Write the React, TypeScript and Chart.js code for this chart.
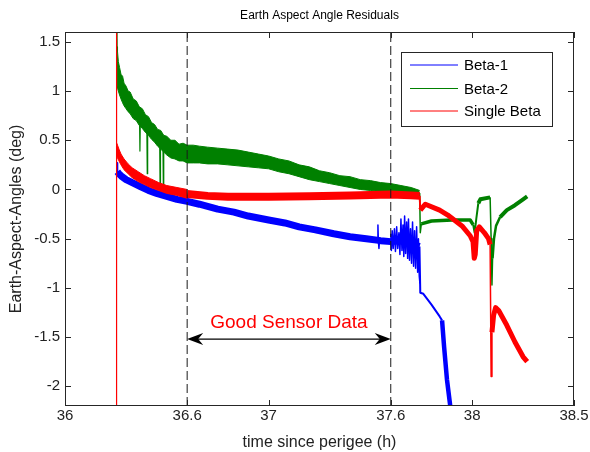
import { useEffect, useRef } from "react";
import { Chart, registerables } from "chart.js";

Chart.register(...registerables);

// ---------- data ----------
const chartTitle = "Earth Aspect Angle Residuals";
const xAxisTitle = "time since perigee (h)";
const yAxisTitle = "Earth-Aspect-Angles (deg)";
const seriesNames = ["Beta-1", "Beta-2", "Single Beta"];
const xRange = [36, 38.5];
const yRange = [-2.2, 1.6];
const xTickValues = [36, 36.6, 37, 37.6, 38, 38.5];
const yTickValues = [-2, -1.5, -1, -0.5, 0, 0.5, 1, 1.5];
const goodDataStart = 36.6;
const goodDataEnd = 37.6;
const arrowLevel = -1.52;
const annotationText = "Good Sensor Data";
const annotationLevel = -1.405;

// Beta-1 (blue): trend line
const beta1: [number, number][] = [
  [36.2555, 0.27], [36.257, 0.18], [36.265, 0.16], [36.28, 0.13], [36.3, 0.1],
  [36.33, 0.07], [36.37, 0.03], [36.41, -0.01], [36.45, -0.04], [36.5, -0.07],
  [36.55, -0.1], [36.6, -0.12], [36.66, -0.15], [36.75, -0.2], [36.83, -0.23],
  [36.9, -0.27], [37.0, -0.31], [37.08, -0.34], [37.15, -0.38], [37.23, -0.41],
  [37.32, -0.45], [37.4, -0.48], [37.48, -0.5], [37.55, -0.52], [37.6, -0.53],
  [37.65, -0.52], [37.7, -0.55], [37.741, -0.58], [37.745, -1.05], [37.76, -1.06],
  [37.8, -1.17], [37.84, -1.29], [37.852, -1.33], [37.862, -1.6], [37.876, -1.93],
  [37.891, -2.18], [37.9, -2.4],
];
// Beta-1 noise bursts near the end of the good-data window
const beta1Noise: [number, number | null][] = [
  [37.535, -0.5], [37.537, -0.36], [37.539, -0.52], [37.542, -0.6], [37.545, -0.5], [37.546, null],
  [37.6, -0.45], [37.603, -0.62], [37.607, -0.42], [37.612, -0.6], [37.618, -0.4],
  [37.623, -0.63], [37.629, -0.38], [37.634, -0.6], [37.64, -0.44], [37.645, -0.66],
  [37.65, -0.3], [37.655, -0.62], [37.66, -0.36], [37.664, -0.68], [37.668, -0.27],
  [37.673, -0.65], [37.678, -0.33], [37.683, -0.7], [37.687, -0.3], [37.692, -0.72],
  [37.697, -0.4], [37.702, -0.75], [37.707, -0.33], [37.712, -0.78], [37.717, -0.42],
  [37.722, -0.8], [37.727, -0.38], [37.732, -0.84], [37.736, -0.5], [37.74, -0.88],
  [37.743, -0.95],
];

// Beta-2 (green): noisy band envelope, then line after the band
const beta2BandX = [
  36.2555, 36.258, 36.262, 36.268, 36.275, 36.283, 36.29, 36.3, 36.31, 36.32, 36.335,
  36.35, 36.365, 36.38, 36.395, 36.41, 36.425, 36.44, 36.455, 36.47, 36.485, 36.5,
  36.52, 36.54, 36.56, 36.58, 36.6, 36.63, 36.66, 36.7, 36.75, 36.8, 36.85, 36.9,
  36.95, 37.0, 37.05, 37.1, 37.15, 37.2, 37.25, 37.3, 37.35, 37.4, 37.45, 37.5,
  37.55, 37.6, 37.65, 37.7, 37.742,
];
const beta2BandUpper = [
  1.45, 1.4, 1.3, 1.24, 1.17, 1.15, 1.08, 1.05, 1.0, 0.99, 0.92,
  0.9, 0.84, 0.82, 0.76, 0.74, 0.68, 0.66, 0.61, 0.6, 0.55, 0.54,
  0.5, 0.5, 0.46, 0.47, 0.45, 0.45, 0.44, 0.43, 0.42, 0.41, 0.4, 0.38,
  0.36, 0.34, 0.31, 0.29, 0.25, 0.23, 0.19, 0.17, 0.14, 0.13, 0.1, 0.09,
  0.07, 0.06, 0.04, 0.02, -0.01,
];
const beta2BandLower = [
  1.05, 1.03, 1.0, 0.96, 0.92, 0.88, 0.85, 0.82, 0.79, 0.77, 0.72,
  0.7, 0.65, 0.62, 0.58, 0.55, 0.51, 0.48, 0.44, 0.41, 0.38, 0.35,
  0.32, 0.31, 0.29, 0.29, 0.27, 0.27, 0.27, 0.26, 0.26, 0.25, 0.24, 0.23,
  0.22, 0.21, 0.18, 0.16, 0.13, 0.1, 0.08, 0.06, 0.04, 0.02, 0.0, -0.01,
  -0.02, -0.03, -0.04, -0.05, -0.06,
];
const beta2: [number, number | null][] = [
  [36.254, 1.75], [36.2555, 1.4], [36.256, null],
  [37.742, -0.035], [37.745, -0.44], [37.75, -0.35], [37.8, -0.32], [37.9, -0.31],
  [37.99, -0.31], [38.005, -0.36], [38.012, -0.44], [38.02, -0.3], [38.03, -0.14],
  [38.04, -0.1], [38.088, -0.08], [38.093, -0.5], [38.097, -0.97], [38.1, -0.7],
  [38.107, -0.5], [38.117, -0.37], [38.137, -0.28], [38.17, -0.21], [38.21, -0.16],
  [38.25, -0.1], [38.27, -0.07],
];
const beta2Spikes: [number, number | null][] = [
  [36.366, 0.72], [36.368, 0.39], [36.37, 0.7], [36.371, null],
  [36.402, 0.6], [36.404, 0.16], [36.406, 0.58], [36.407, null],
  [36.465, 0.48], [36.467, 0.02], [36.469, 0.47], [36.47, null],
  [36.481, 0.46], [36.483, 0.01], [36.485, 0.45],
];

// Single Beta (red): early noisy band, then line
const singleBandX = [36.2545, 36.258, 36.265, 36.275, 36.29, 36.31, 36.33, 36.36, 36.39, 36.42, 36.46, 36.5, 36.55, 36.6];
const singleBandUpper = [0.47, 0.45, 0.41, 0.36, 0.31, 0.26, 0.22, 0.18, 0.14, 0.11, 0.07, 0.04, 0.02, 0.0];
const singleBandLower = [0.34, 0.32, 0.29, 0.25, 0.2, 0.16, 0.12, 0.08, 0.05, 0.02, -0.01, -0.04, -0.06, -0.09];
const singleBeta: [number, number | null][] = [
  [36.252, -2.5], [36.252, 1.8], [36.2535, 0.85], [36.2545, 0.45], [36.255, null],
  [36.6, -0.045], [36.7, -0.065], [36.8, -0.075], [37.0, -0.075], [37.2, -0.07],
  [37.4, -0.06], [37.6, -0.05], [37.7, -0.06], [37.742, -0.065], [37.745, -0.21],
  [37.77, -0.15], [37.84, -0.21], [37.88, -0.26], [37.95, -0.37], [37.99, -0.47],
  [38.004, -0.53], [38.01, -0.7], [38.015, -0.66], [38.022, -0.42], [38.035, -0.38],
  [38.06, -0.44], [38.08, -0.5], [38.088, -0.56], [38.093, -1.9], [38.097, -1.45],
  [38.105, -1.28], [38.115, -1.2], [38.13, -1.23], [38.17, -1.38], [38.21, -1.55],
  [38.25, -1.7], [38.27, -1.75],
];

// ---------- styles ----------
const BLUE = "#0000ff";
const GREEN = "#008000";
const RED = "#ff0000";
const FONT = "'Liberation Sans', Arial, Helvetica, sans-serif";
const AXIS_COLOR = "#262626";

// width stops: [segment starting below this x, width]
const blueWidths: [number, number][] = [[36.2565, 2], [37.741, 7], [37.85, 2], [99, 4.5]];
const greenWidths: [number, number][] = [
  [36.2556, 1.5], [37.746, 1.5], [38.0, 3.5], [38.03, 2], [38.087, 4], [38.1, 1.5], [38.13, 2.5], [99, 4],
];
const redWidths: [number, number][] = [
  [36.2546, 1.2], [37.741, 8], [37.744, 2], [38.087, 5], [38.095, 1.5], [99, 5],
];

const widthBy = (stops: [number, number][]) => (ctx: any) => {
  const x = ctx.p0.parsed.x;
  for (const [lim, w] of stops) if (x < lim) return w;
  return stops[stops.length - 1][1];
};

const toPts = (arr: [number, number | null][]) => arr.map(([x, y]) => ({ x, y }));
const zipPts = (xs: number[], ys: number[]) => xs.map((x, i) => ({ x, y: ys[i] }));

const decorPlugin = {
  id: "decor",
  afterDatasetsDraw(chart: any) {
    const { ctx, chartArea: ca, scales } = chart;
    const xs = scales.x;
    const ys = scales.y;
    ctx.save();
    // frame
    ctx.strokeStyle = AXIS_COLOR;
    ctx.lineWidth = 1;
    ctx.strokeRect(Math.round(ca.left) + 0.5, Math.round(ca.top) + 0.5, Math.round(ca.right - ca.left) - 1, Math.round(ca.bottom - ca.top) - 1);
    // inward ticks
    const tl = 6;
    ctx.beginPath();
    for (const t of xs.ticks) {
      const px = Math.round(xs.getPixelForValue(t.value)) + 0.5;
      ctx.moveTo(px, ca.bottom); ctx.lineTo(px, ca.bottom - tl);
      ctx.moveTo(px, ca.top); ctx.lineTo(px, ca.top + tl);
    }
    for (const t of ys.ticks) {
      const py = Math.round(ys.getPixelForValue(t.value)) + 0.5;
      ctx.moveTo(ca.left, py); ctx.lineTo(ca.left + tl, py);
      ctx.moveTo(ca.right, py); ctx.lineTo(ca.right - tl, py);
    }
    ctx.stroke();

    // arrow
    const x1 = xs.getPixelForValue(goodDataStart);
    const x2 = xs.getPixelForValue(goodDataEnd);
    const ay = ys.getPixelForValue(arrowLevel);
    ctx.strokeStyle = "#000";
    ctx.lineWidth = 1.3;
    ctx.beginPath();
    ctx.moveTo(x1 + 6, ay); ctx.lineTo(x2 - 6, ay);
    ctx.stroke();
    ctx.fillStyle = "#000";
    const head = (tx: number, dir: number) => {
      ctx.beginPath();
      ctx.moveTo(tx, ay);
      ctx.lineTo(tx + dir * 16, ay - 6);
      ctx.lineTo(tx + dir * 11, ay);
      ctx.lineTo(tx + dir * 16, ay + 6);
      ctx.closePath();
      ctx.fill();
    };
    head(x1, 1);
    head(x2, -1);

    // annotation text
    ctx.fillStyle = RED;
    ctx.font = `19px ${FONT}`;
    ctx.textAlign = "center";
    ctx.textBaseline = "alphabetic";
    ctx.fillText(annotationText, xs.getPixelForValue((goodDataStart + goodDataEnd) / 2), ys.getPixelForValue(annotationLevel));

    // legend
    const lx = Math.round(ca.right) - 173;
    const ly = Math.round(ca.top) + 20;
    const lw = 151;
    const lh = 74;
    ctx.fillStyle = "#fff";
    ctx.fillRect(lx, ly, lw, lh);
    ctx.strokeStyle = AXIS_COLOR;
    ctx.lineWidth = 1;
    ctx.strokeRect(lx + 0.5, ly + 0.5, lw, lh);
    const colors = [BLUE, GREEN, RED];
    const rows = [13, 36.5, 59];
    ctx.font = `15px ${FONT}`;
    ctx.textAlign = "left";
    ctx.textBaseline = "middle";
    seriesNames.forEach((name, i) => {
      const ry = ly + rows[i];
      ctx.strokeStyle = colors[i];
      ctx.lineWidth = 1;
      ctx.beginPath();
      ctx.moveTo(lx + 9, ry); ctx.lineTo(lx + 57, ry);
      ctx.stroke();
      ctx.fillStyle = "#000";
      ctx.fillText(name, lx + 63, ry + 1);
    });
    ctx.restore();
  },
};

export default function App() {
  const ref = useRef<HTMLCanvasElement>(null);
  useEffect(() => {
    const canvas = ref.current!;
    Chart.defaults.font.family = FONT;
    const dashed = {
      borderColor: "#1a1a1a",
      borderWidth: 1,
      borderDash: [9, 4],
      pointRadius: 0,
      clip: 0,
    };
    const base = { pointRadius: 0, clip: 0, spanGaps: false, borderJoinStyle: "round" };
    const chart = new Chart(canvas, {
      type: "line",
      data: {
        datasets: [
          { ...dashed, label: "start", data: toPts([[goodDataStart, yRange[0]], [goodDataStart, yRange[1]]]) },
          { ...dashed, label: "end", data: toPts([[goodDataEnd, yRange[0]], [goodDataEnd, yRange[1]]]) },
          {
            ...base, label: seriesNames[2], data: toPts(singleBeta), borderColor: RED, borderWidth: 6,
            segment: { borderWidth: widthBy(redWidths) },
          },
          { ...base, label: "redUpper", data: zipPts(singleBandX, singleBandUpper), borderColor: RED, borderWidth: 1 },
          {
            ...base, label: "redLower", data: zipPts(singleBandX, singleBandLower), borderColor: RED, borderWidth: 1,
            fill: "-1", backgroundColor: RED,
          },
          { ...base, label: "blueNoise", data: toPts(beta1Noise), borderColor: BLUE, borderWidth: 1.5 },
          { ...base, label: "greenSpikes", data: toPts(beta2Spikes), borderColor: GREEN, borderWidth: 1.2 },
          {
            ...base, label: seriesNames[1], data: toPts(beta2), borderColor: GREEN, borderWidth: 4,
            segment: { borderWidth: widthBy(greenWidths) },
          },
          { ...base, label: "greenUpper", data: zipPts(beta2BandX, beta2BandUpper), borderColor: GREEN, borderWidth: 1 },
          {
            ...base, label: "greenLower", data: zipPts(beta2BandX, beta2BandLower), borderColor: GREEN, borderWidth: 1,
            fill: "-1", backgroundColor: GREEN,
          },
          {
            ...base, label: seriesNames[0], data: toPts(beta1), borderColor: BLUE, borderWidth: 6,
            segment: { borderWidth: widthBy(blueWidths) },
          },
        ] as any,
      },
      options: {
        responsive: false,
        animation: false,
        devicePixelRatio: 1,
        layout: { padding: { left: 0, right: 16, top: 0, bottom: 0 } },
        elements: { line: { tension: 0 }, point: { radius: 0 } },
        plugins: {
          legend: { display: false },
          tooltip: { enabled: false },
          title: {
            display: true,
            text: chartTitle,
            fullSize: false,
            color: "#000",
            font: { size: 12, weight: "normal", family: FONT },
            padding: { top: 8, bottom: 9.6 },
          },
        },
        scales: {
          x: {
            type: "linear",
            min: xRange[0],
            max: xRange[1],
            afterBuildTicks: (s: any) => { s.ticks = xTickValues.map((v) => ({ value: v })); },
            afterFit: (s: any) => { s.height = 46; },
            grid: { display: false, drawTicks: false },
            border: { display: false },
            ticks: {
              autoSkip: false, maxRotation: 0, padding: 1, color: "#222",
              font: { size: 15, family: FONT },
              callback: (v: any) => String(v),
            },
            title: {
              display: true, text: xAxisTitle, color: "#222",
              font: { size: 16, family: FONT }, padding: { top: 0, bottom: 0 },
            },
          },
          y: {
            type: "linear",
            min: yRange[0],
            max: yRange[1],
            afterBuildTicks: (s: any) => { s.ticks = yTickValues.map((v) => ({ value: v })); },
            afterFit: (s: any) => { s.width = 65; },
            grid: { display: false, drawTicks: false },
            border: { display: false },
            ticks: {
              autoSkip: false, padding: 5, color: "#222",
              font: { size: 15, family: FONT },
              callback: (v: any) => String(v),
            },
            title: {
              display: true, text: yAxisTitle, color: "#222",
              font: { size: 16, family: FONT }, padding: { top: 7, bottom: 0 },
            },
          },
        },
      } as any,
      plugins: [decorPlugin],
    });
    return () => chart.destroy();
  }, []);
  return (
    <div style={{ position: "fixed", left: 0, top: 0, width: 590, height: 452, background: "#fff" }}>
      <canvas ref={ref} width={590} height={452} style={{ display: "block" }} />
    </div>
  );
}
